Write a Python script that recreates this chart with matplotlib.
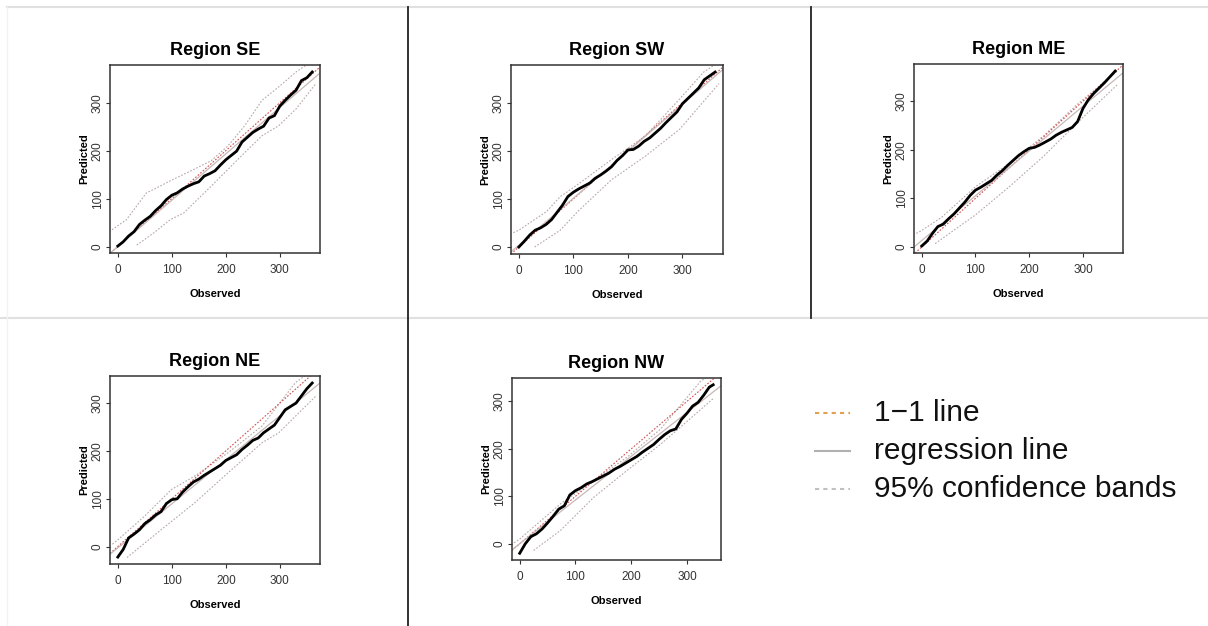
import matplotlib.pyplot as plt
import numpy as np

plt.rcParams['font.family'] = ['Liberation Sans', 'DejaVu Sans']

# observed day grid used for the predicted curves
obs = list(range(0, 361, 10))
obs_nw = list(range(0, 341, 10)) + [347]

pred_se = [1, 10, 22, 31, 46, 55, 63, 75, 85, 98, 107, 112, 120, 126, 131, 135, 147, 152,
           158, 170, 181, 190, 199, 218, 228, 238, 245, 251, 268, 273, 293, 305, 316, 326,
           346, 352, 364]
pred_sw = [0, 12, 25, 35, 40, 47, 57, 72, 87, 105, 114, 121, 127, 133, 143, 150, 158, 167,
           180, 190, 202, 203, 210, 220, 227, 237, 247, 259, 270, 281, 298, 309, 320, 331,
           348, 356, 364]
pred_me = [2, 12, 28, 42, 47, 58, 68, 80, 92, 106, 117, 123, 130, 137, 148, 157, 168, 178,
           188, 196, 203, 205, 210, 216, 222, 230, 236, 241, 246, 258, 285, 303, 316, 327,
           338, 350, 362]
pred_ne = [-22, -6, 18, 26, 35, 48, 56, 66, 73, 90, 98, 100, 114, 125, 135, 141, 149, 156,
           163, 170, 180, 186, 192, 203, 212, 222, 227, 238, 246, 254, 270, 286, 293, 300,
           315, 330, 342]
pred_nw = [-20, 0, 15, 21, 31, 44, 58, 73, 80, 103, 112, 118, 126, 131, 137, 143, 149, 157,
           163, 170, 177, 184, 193, 201, 209, 220, 230, 238, 242, 262, 275, 290, 298, 313,
           330, 335]

# 95% confidence bands (x, upper) and (x, lower)
up_se_x = [-16, 16, 53, 66, 97, 141, 173, 204, 235, 267, 298, 330, 367]
up_se = [31, 56, 112, 119, 137, 161, 179, 210, 252, 305, 333, 364, 392]
lo_se_x = [35, 66, 97, 122, 141, 173, 204, 235, 267, 298, 330, 367]
lo_se = [3, 28, 56, 70, 91, 126, 161, 196, 231, 252, 287, 340]

up_sw_x = [-10, 0, 51, 76, 108, 170, 232, 295, 339, 367]
up_sw = [30, 35, 74, 105, 130, 182, 231, 308, 364, 385]
lo_sw_x = [29, 76, 108, 170, 232, 295, 367]
lo_sw = [0, 35, 74, 140, 189, 245, 340]

up_me_x = [-10, 0, 38, 100, 163, 226, 289, 364]
up_me = [28, 34, 62, 124, 172, 228, 293, 362]
lo_me_x = [25, 100, 163, 226, 289, 364]
lo_me = [7, 66, 124, 186, 255, 334]

up_ne_x = [-10, 0, 49, 99, 142, 204, 267, 329, 350]
up_ne = [5, 14, 63, 119, 147, 196, 252, 343, 360]
lo_ne_x = [17, 80, 142, 204, 267, 298, 367]
lo_ne = [-23, 35, 91, 154, 217, 238, 315]

up_nw_x = [-10, 0, 73, 133, 192, 252, 324, 340]
up_nw = [2, 10, 84, 133, 182, 241, 342, 355]
lo_nw_x = [25, 73, 133, 192, 252, 311, 348]
lo_nw = [-14, 28, 98, 154, 209, 269, 307]

panels = [
    ('Region SE', obs, pred_se, up_se_x, up_se, lo_se_x, lo_se, [0.0911, 0.5958, 0.1738, 0.3003]),
    ('Region SW', obs, pred_sw, up_sw_x, up_sw, lo_sw_x, lo_sw, [0.4230, 0.5942, 0.1755, 0.3019]),
    ('Region ME', obs, pred_me, up_me_x, up_me, lo_me_x, lo_me, [0.7566, 0.5958, 0.1730, 0.3019]),
    ('Region NE', obs, pred_ne, up_ne_x, up_ne, lo_ne_x, lo_ne, [0.0911, 0.0990, 0.1738, 0.3003]),
    ('Region NW', obs_nw, pred_nw, up_nw_x, up_nw, lo_nw_x, lo_nw, [0.4238, 0.1054, 0.1730, 0.2907]),
]

fig = plt.figure(figsize=(12.08, 6.26), dpi=100)

for title, x, y, ux, uy, lx, ly, pos in panels:
    ax = fig.add_axes(pos)
    x = np.array(x)
    y = np.array(y)
    # R-style 4% padding around the data
    xpad = 0.04 * (x.max() - x.min())
    ypad = 0.04 * (y.max() - y.min())
    ax.set_xlim(x.min() - xpad, x.max() + xpad)
    ax.set_ylim(y.min() - ypad, y.max() + ypad)

    ax.plot(ux, uy, color='#b8a8a8', lw=0.8, ls=(0, (1.5, 1.5)))
    ax.plot(lx, ly, color='#b8a8a8', lw=0.8, ls=(0, (1.5, 1.5)))
    ax.axline((0, 0), slope=1, color='#d05050', lw=0.8, ls=(0, (1.5, 1.5)))
    b, a = np.polyfit(x, y, 1)
    ax.axline((0, a), slope=b, color='#c8b8b8', lw=0.9)
    ax.plot(x, y, color='black', lw=2.0, solid_joinstyle='miter')

    ax.set_xticks([0, 100, 200, 300])
    ax.set_yticks([0, 100, 200, 300])
    ax.tick_params(labelsize=8.5, colors='#333333', length=3, width=0.8)
    ax.tick_params(axis='x', pad=5)
    ax.tick_params(axis='y', pad=1.5)
    for lab in ax.get_yticklabels():
        lab.set_rotation(90)
        lab.set_va('center')
    for sp in ax.spines.values():
        sp.set_color('#333333')
        sp.set_linewidth(1.1)
    ax.set_title(title, fontsize=13, fontweight='bold', pad=7)
    ax.set_xlabel('Observed', fontsize=8, fontweight='bold', labelpad=9)
    ax.set_ylabel('Predicted', fontsize=8, fontweight='bold', labelpad=2)

# legend block
leg_items = [
    ('1\u22121 line', '#e0a050', (0, (2, 2))),
    ('regression line', '#b0b0b0', '-'),
    ('95% confidence bands', '#c0c0c0', (0, (2, 2))),
]
for i, (txt, col, ls) in enumerate(leg_items):
    yy = 1 - (413 + 38 * i) / 626
    fig.add_artist(plt.Line2D([815 / 1208, 850 / 1208], [yy, yy], color=col, ls=ls, lw=1.5))
    fig.text(874 / 1208, yy, txt, fontsize=21.5, va='center', ha='left', color='#111111')

# panel separators
fig.add_artist(plt.Line2D([7 / 1208, 1], [1 - 7 / 626, 1 - 7 / 626], color='#e0e0e0', lw=1.5))
fig.add_artist(plt.Line2D([0, 1], [1 - 318 / 626, 1 - 318 / 626], color='#e0e0e0', lw=1.5))
fig.add_artist(plt.Line2D([7 / 1208, 7 / 1208], [0, 1 - 7 / 626], color='#f2f2f2', lw=1))
fig.add_artist(plt.Line2D([408 / 1208, 408 / 1208], [0, 1 - 7 / 626], color='#222222', lw=1.3))
fig.add_artist(plt.Line2D([811 / 1208, 811 / 1208], [1 - 318 / 626, 1 - 7 / 626], color='#222222', lw=1.3))

fig.savefig('out.png', dpi=100)
